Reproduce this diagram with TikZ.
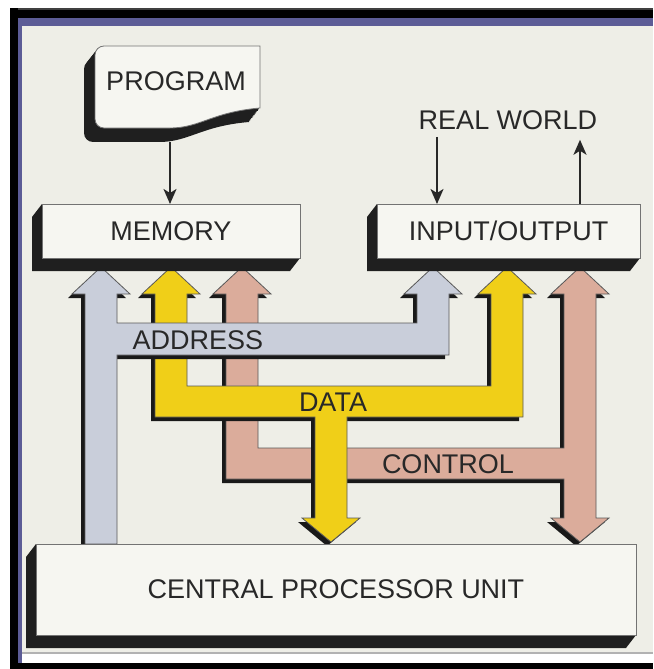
\documentclass[tikz,border=0pt]{standalone}
\usepackage{fontspec}
\setmainfont{Liberation Sans}
\usetikzlibrary{arrows.meta,calc,backgrounds}
\definecolor{cPage}{RGB}{238,238,231}
\definecolor{cBox}{RGB}{246,246,241}
\definecolor{cAddr}{RGB}{201,206,218}
\definecolor{cData}{RGB}{240,207,24}
\definecolor{cCtrl}{RGB}{219,172,155}
\definecolor{cRule}{RGB}{92,92,150}
\definecolor{cInk}{RGB}{40,40,40}
\pgfdeclarelayer{paper}
\pgfsetlayers{paper,background,main}
\tikzset{
  box/.style    ={draw=black!55,line width=0.8pt,fill=cBox,text=cInk,
                  font=\fontsize{27}{30}\selectfont,inner sep=0pt,outer sep=0pt},
  lbl/.style    ={font=\fontsize{27}{30}\selectfont,text=cInk,inner sep=1pt},
  bus/.style    ={draw=black!65,line width=0.8pt},
  busshade/.style={fill=black!90,shift={(-4,4)}},
  link/.style   ={-{Stealth[length=15pt,width=13pt,inset=4pt]},line width=2pt,draw=cInk},
}
% extruded black edge below and left of a box
\newcommand\boxdepth[1]{%
  \fill[black!88] (#1.north west) -- ++(-10,13) |- ($(#1.south east)+(-10,13)$)
    -- (#1.south east) -- (#1.north east) -- cycle;}
\def\progpath{(260,108) -- (260,46) [rounded corners=9] -- (95,46) -- (95,128)
  [sharp corners] -- (170,128) .. controls (200,128) and (212,112) .. (260,108) -- cycle}
\def\addrbus{(85,544) -- (85,294) -- (72,294) -- (101,267) -- (130,294) -- (117,294)
  -- (117,323) -- (417,323) -- (417,294) -- (404,294) -- (433,267) -- (462,294)
  -- (449,294) -- (449,355) -- (117,355) -- (117,544) -- cycle}
\def\databus{(155,417) -- (155,294) -- (142,294) -- (171,267) -- (200,294) -- (187,294)
  -- (187,386) -- (491,386) -- (491,294) -- (478,294) -- (507,267) -- (536,294)
  -- (523,294) -- (523,417) -- (347,417) -- (347,518) -- (360,518) -- (331,542)
  -- (302,518) -- (315,518) -- (315,417) -- cycle}
\def\ctrlbus{(226,479) -- (226,294) -- (213,294) -- (242,267) -- (271,294) -- (258,294)
  -- (258,448) -- (564,448) -- (564,294) -- (551,294) -- (580,267) -- (609,294)
  -- (596,294) -- (596,518) -- (609,518) -- (580,542) -- (551,518) -- (564,518)
  -- (564,479) -- cycle}

\begin{document}
\begin{tikzpicture}[x=1pt,y=-1pt]
\useasboundingbox (0,0) rectangle (653,669);

\begin{pgfonlayer}{paper}
\fill[white] (0,0) rectangle (653,669);
\fill[cPage] (22,26) rectangle (653,653);
\fill[black!75] (10,8) rectangle (653,10);
\fill[black] (10,10) rectangle (653,18);
\fill[cRule] (18,18) rectangle (653,26);
\fill[black] (10,8) rectangle (18,669);
\fill[cRule] (18,18) rectangle (22,663);
\fill[black!30] (22,652) rectangle (653,654);
\fill[black] (10,663) rectangle (653,669);
\end{pgfonlayer}

% program sheet
\foreach \t in {0.1,0.2,...,1.01}
  \fill[black!88,shift={(-11*\t,14*\t)}] \progpath;
\path[box] \progpath;
\node[lbl] (prog) at (176,81) {PROGRAM};
\coordinate (progfoot) at (170,142);

\node[box,minimum width=258pt,minimum height=54pt] (mem) at (171,231) {MEMORY};
\node[box,minimum width=263pt,minimum height=54pt] (io) at (508.5,231) {INPUT/OUTPUT};
\node[box,minimum width=600pt,minimum height=91pt] (cpu) at (336,589.5) {CENTRAL PROCESSOR UNIT};

\node[lbl] (rw) at (508,120) {REAL WORLD};
\coordinate (rwin) at (437,0);
\coordinate (rwout) at (580,0);

\begin{scope}[on background layer]
\fill[busshade] \ctrlbus;
\path[bus,fill=cCtrl] \ctrlbus;
\fill[busshade] \databus;
\path[bus,fill=cData] \databus;
\fill[busshade] \addrbus;
\path[bus,fill=cAddr] \addrbus;
\boxdepth{mem}
\boxdepth{io}
\boxdepth{cpu}
\end{scope}

\node[lbl] (addr) at (198,340) {ADDRESS};
\node[lbl] (data) at (333,402) {DATA};
\node[lbl] (ctrl) at (448,464) {CONTROL};

\draw[link] (progfoot) -- (mem.north -| progfoot);
\draw[link,shorten <=6pt] (rw.south -| rwin) -- (io.north -| rwin);
\draw[link,shorten >=9pt] (io.north -| rwout) -- (rw.south -| rwout);

\end{tikzpicture}
\end{document}
